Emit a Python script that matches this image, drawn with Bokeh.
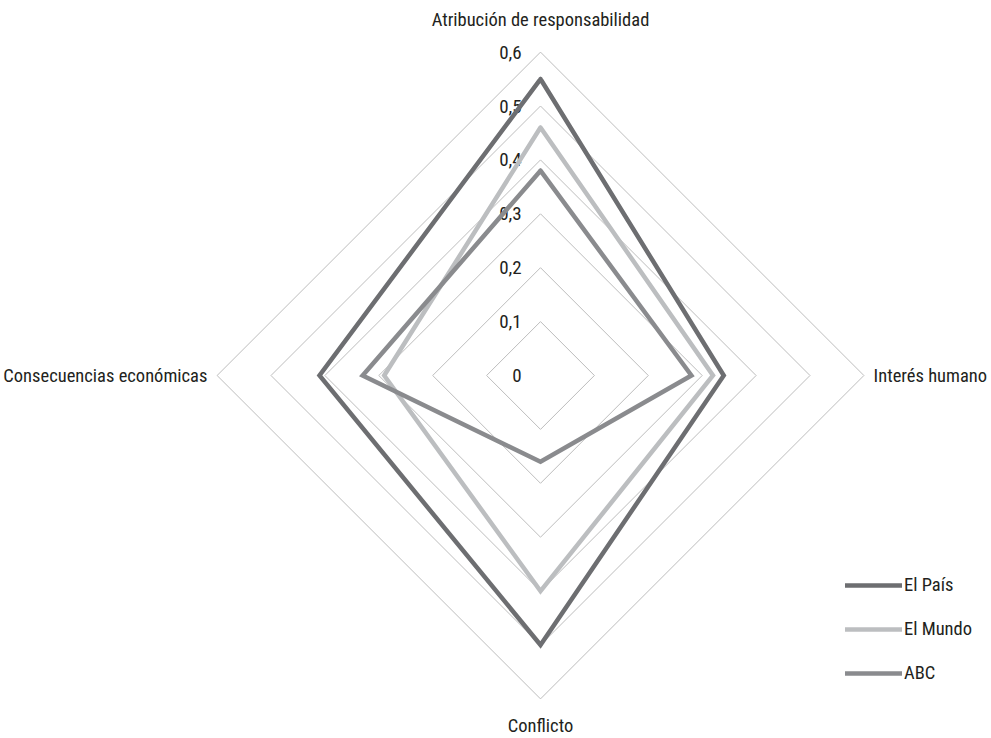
import numpy as np
from bokeh.plotting import figure
from bokeh.models import Legend, LegendItem
from bokeh.core.properties import value
from bokeh.embed import file_html
from bokeh.resources import INLINE

categories = ["Atribución de responsabilidad", "Interés humano", "Conflicto", "Consecuencias económicas"]
series_names = ["El País", "El Mundo", "ABC"]
el_pais = [0.55, 0.34, 0.50, 0.41]
el_mundo = [0.46, 0.32, 0.40, 0.29]
abc = [0.38, 0.28, 0.16, 0.33]
levels = [0.1, 0.2, 0.3, 0.4, 0.5, 0.6]
tick_labels = ["0", "0,1", "0,2", "0,3", "0,4", "0,5", "0,6"]
tick_values = [0.0, 0.1, 0.2, 0.3, 0.4, 0.5, 0.6]

colors = ["#6d6e71", "#bcbec0", "#8a8b8e"]
FONT_STR = "Roboto Condensed"
FONT = value(FONT_STR)
FS = "18.5px"

W, H = 988, 736
scale = 539.0
cx_pix, cy_pix = 540.0, 375.0
x0 = -cx_pix / scale
x1 = x0 + W / scale
y1 = cy_pix / scale
y0 = y1 - H / scale

p = figure(width=W, height=H, x_range=(x0, x1), y_range=(y0, y1),
           output_backend="svg", toolbar_location=None, min_border=0)
p.axis.visible = False
p.grid.visible = False
p.outline_line_color = None
p.background_fill_color = "white"

# clockwise from top
ang = np.pi / 2 - np.arange(len(categories)) * 2 * np.pi / len(categories)

def poly(vals):
    v = np.array(vals, dtype=float)
    xs = v * np.cos(ang)
    ys = v * np.sin(ang)
    return list(np.append(xs, xs[0])), list(np.append(ys, ys[0]))

# grid rings
gx, gy = [], []
for lv in levels:
    xs, ys = poly([lv] * len(categories))
    gx.append(xs)
    gy.append(ys)
p.multi_line(gx, gy, line_color="#bdbdbd", line_width=1)

# tick labels
p.text(x=[-0.035] * len(tick_values), y=tick_values, text=tick_labels,
       text_align="right", text_baseline="middle", text_font=FONT,
       text_font_size="19px", text_color="#231f20")

# category labels
label_r = [0.66, 0.618, 0.651, 0.618]
aligns = ["center", "left", "center", "right"]
for i, c in enumerate(categories):
    p.text(x=[label_r[i] * np.cos(ang[i])], y=[label_r[i] * np.sin(ang[i])], text=[c],
           text_align=aligns[i], text_baseline="middle", text_font=FONT,
           text_font_size=FS, text_color="#231f20")

items = []
for name, vals, col in zip(series_names, [el_pais, el_mundo, abc], colors):
    xs, ys = poly(vals)
    r = p.line(xs, ys, line_color=col, line_width=4.5, line_join="miter", line_cap="round")
    items.append(LegendItem(label=name, renderers=[r]))

# legend: top row centred at y=585, glyph from x=845
leg_h = 3 * 24 + 2 * 20
legend = Legend(items=items, location=(845, H - (585 - 12) - leg_h), orientation="vertical",
                glyph_width=57, glyph_height=24, label_height=24, spacing=20,
                label_standoff=2, padding=0, margin=0,
                border_line_color=None, background_fill_alpha=0,
                label_text_font=FONT_STR, label_text_font_size=FS,
                label_text_color="#231f20")
p.add_layout(legend, "center")

open("out.html", "w").write(file_html(p, INLINE))
